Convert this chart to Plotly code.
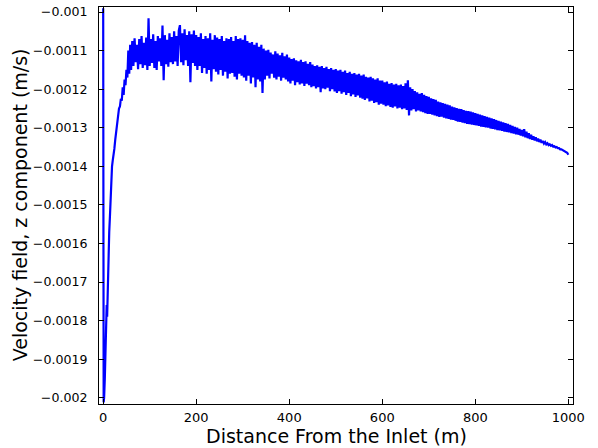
import plotly.graph_objects as go

# --- data ---
rise_x = [0, 1, 2, 3.5, 5, 6.5, 7.5, 8.5, 10, 11.5, 13, 14.5, 16, 17.5, 19, 20.5,
          22, 24, 26, 28, 30, 32, 34, 36, 38, 40, 42, 44, 46, 48, 50, 52, 54, 56, 58]
rise_v = [-0.990e-3, -2.012e-3, -2.000e-3, -1.950e-3, -1.893e-3, -1.830e-3, -1.760e-3,
          -1.790e-3, -1.700e-3, -1.630e-3, -1.570e-3, -1.530e-3, -1.470e-3, -1.440e-3,
          -1.400e-3, -1.385e-3, -1.375e-3, -1.355e-3, -1.330e-3, -1.310e-3, -1.285e-3,
          -1.270e-3, -1.250e-3, -1.245e-3, -1.225e-3, -1.230e-3, -1.195e-3, -1.215e-3,
          -1.175e-3, -1.190e-3, -1.150e-3, -1.170e-3, -1.100e-3, -1.160e-3, -1.085e-3]

# noisy part, sampled every 2.5 m from 60 m to 1000 m
band_x = [60 + 2.5 * i for i in range(377)]
band_v = [
    # 60 - 97.5
    -1.150e-3, -1.075e-3, -1.140e-3, -1.068e-3, -1.130e-3, -1.085e-3, -1.148e-3, -1.070e-3,
    -1.135e-3, -1.062e-3, -1.145e-3, -1.080e-3, -1.138e-3, -1.066e-3, -1.150e-3, -1.016e-3,
    # 100 - 147.5
    -1.140e-3, -1.070e-3, -1.132e-3, -1.058e-3, -1.145e-3, -1.075e-3, -1.150e-3, -1.062e-3,
    -1.128e-3, -1.068e-3, -1.140e-3, -1.035e-3, -1.177e-3, -1.060e-3, -1.135e-3, -1.072e-3,
    -1.142e-3, -1.055e-3, -1.130e-3, -1.065e-3,
    # 150 - 197.5
    -1.135e-3, -1.050e-3, -1.128e-3, -1.062e-3, -1.140e-3, -1.048e-3, -1.034e-3, -1.130e-3,
    -1.055e-3, -1.138e-3, -1.045e-3, -1.125e-3, -1.060e-3, -1.140e-3, -1.050e-3, -1.182e-3,
    -1.058e-3, -1.132e-3, -1.048e-3, -1.140e-3,
    # 200 - 247.5
    -1.060e-3, -1.150e-3, -1.065e-3, -1.140e-3, -1.055e-3, -1.158e-3, -1.070e-3, -1.145e-3,
    -1.062e-3, -1.160e-3, -1.068e-3, -1.150e-3, -1.055e-3, -1.180e-3, -1.072e-3, -1.148e-3,
    -1.060e-3, -1.155e-3, -1.066e-3, -1.162e-3,
    # 250 - 297.5
    -1.070e-3, -1.150e-3, -1.062e-3, -1.165e-3, -1.075e-3, -1.155e-3, -1.068e-3, -1.172e-3,
    -1.070e-3, -1.160e-3, -1.065e-3, -1.158e-3, -1.075e-3, -1.168e-3, -1.062e-3, -1.175e-3,
    -1.070e-3, -1.160e-3, -1.068e-3, -1.165e-3,
    # 300 - 347.5
    -1.072e-3, -1.170e-3, -1.060e-3, -1.178e-3, -1.075e-3, -1.165e-3, -1.080e-3, -1.185e-3,
    -1.078e-3, -1.170e-3, -1.085e-3, -1.195e-3, -1.080e-3, -1.175e-3, -1.090e-3, -1.180e-3,
    -1.085e-3, -1.210e-3, -1.095e-3, -1.175e-3,
    # 350 - 397.5
    -1.100e-3, -1.165e-3, -1.098e-3, -1.172e-3, -1.105e-3, -1.160e-3, -1.110e-3, -1.170e-3,
    -1.102e-3, -1.175e-3, -1.108e-3, -1.168e-3, -1.112e-3, -1.178e-3, -1.106e-3, -1.170e-3,
    -1.115e-3, -1.175e-3, -1.110e-3, -1.180e-3,
    # 400 - 447.5
    -1.118e-3, -1.185e-3, -1.122e-3, -1.178e-3, -1.120e-3, -1.190e-3, -1.125e-3, -1.182e-3,
    -1.128e-3, -1.188e-3, -1.124e-3, -1.185e-3, -1.130e-3, -1.192e-3, -1.128e-3, -1.186e-3,
    -1.134e-3, -1.190e-3, -1.130e-3, -1.195e-3,
    # 450 - 497.5
    -1.136e-3, -1.192e-3, -1.140e-3, -1.198e-3, -1.138e-3, -1.195e-3, -1.142e-3, -1.208e-3,
    -1.140e-3, -1.198e-3, -1.145e-3, -1.200e-3, -1.142e-3, -1.196e-3, -1.148e-3, -1.205e-3,
    -1.145e-3, -1.200e-3, -1.150e-3, -1.206e-3,
    # 500 - 547.5
    -1.148e-3, -1.210e-3, -1.152e-3, -1.205e-3, -1.150e-3, -1.212e-3, -1.155e-3, -1.208e-3,
    -1.152e-3, -1.215e-3, -1.158e-3, -1.210e-3, -1.155e-3, -1.218e-3, -1.160e-3, -1.214e-3,
    -1.158e-3, -1.220e-3, -1.162e-3, -1.216e-3,
    # 550 - 597.5
    -1.160e-3, -1.222e-3, -1.165e-3, -1.225e-3, -1.162e-3, -1.228e-3, -1.168e-3, -1.224e-3,
    -1.170e-3, -1.232e-3, -1.168e-3, -1.230e-3, -1.172e-3, -1.236e-3, -1.175e-3, -1.234e-3,
    -1.172e-3, -1.240e-3, -1.178e-3, -1.238e-3,
    # 600 - 647.5
    -1.178e-3, -1.240e-3, -1.182e-3, -1.244e-3, -1.180e-3, -1.242e-3, -1.186e-3, -1.246e-3,
    -1.184e-3, -1.248e-3, -1.188e-3, -1.245e-3, -1.186e-3, -1.250e-3, -1.190e-3, -1.248e-3,
    -1.188e-3, -1.252e-3, -1.192e-3, -1.250e-3,
    # 650 - 697.5
    -1.185e-3, -1.254e-3, -1.177e-3, -1.268e-3, -1.195e-3, -1.255e-3, -1.200e-3, -1.252e-3,
    -1.205e-3, -1.258e-3, -1.208e-3, -1.255e-3, -1.212e-3, -1.258e-3, -1.210e-3, -1.260e-3,
    -1.215e-3, -1.262e-3, -1.218e-3, -1.264e-3,
    # 700 - 747.5
    -1.220e-3, -1.264e-3, -1.224e-3, -1.266e-3, -1.226e-3, -1.268e-3, -1.228e-3, -1.270e-3,
    -1.232e-3, -1.272e-3, -1.234e-3, -1.271e-3, -1.236e-3, -1.274e-3, -1.238e-3, -1.276e-3,
    -1.240e-3, -1.277e-3, -1.242e-3, -1.279e-3,
    # 750 - 797.5
    -1.245e-3, -1.280e-3, -1.247e-3, -1.282e-3, -1.249e-3, -1.284e-3, -1.251e-3, -1.285e-3,
    -1.252e-3, -1.287e-3, -1.254e-3, -1.288e-3, -1.256e-3, -1.290e-3, -1.257e-3, -1.291e-3,
    -1.258e-3, -1.292e-3, -1.260e-3, -1.293e-3,
    # 800 - 847.5
    -1.262e-3, -1.294e-3, -1.264e-3, -1.295e-3, -1.266e-3, -1.297e-3, -1.268e-3, -1.298e-3,
    -1.270e-3, -1.299e-3, -1.272e-3, -1.300e-3, -1.274e-3, -1.302e-3, -1.276e-3, -1.303e-3,
    -1.278e-3, -1.304e-3, -1.280e-3, -1.306e-3,
    # 850 - 897.5
    -1.282e-3, -1.307e-3, -1.284e-3, -1.308e-3, -1.286e-3, -1.310e-3, -1.288e-3, -1.311e-3,
    -1.290e-3, -1.312e-3, -1.293e-3, -1.314e-3, -1.295e-3, -1.315e-3, -1.298e-3, -1.317e-3,
    -1.300e-3, -1.318e-3, -1.303e-3, -1.320e-3,
    # 900 - 947.5
    -1.306e-3, -1.322e-3, -1.304e-3, -1.325e-3, -1.310e-3, -1.327e-3, -1.314e-3, -1.329e-3,
    -1.318e-3, -1.331e-3, -1.322e-3, -1.333e-3, -1.325e-3, -1.335e-3, -1.328e-3, -1.337e-3,
    -1.331e-3, -1.339e-3, -1.334e-3, -1.341e-3,
    # 950 - 1000
    -1.337e-3, -1.343e-3, -1.340e-3, -1.345e-3, -1.343e-3, -1.347e-3, -1.345e-3, -1.349e-3,
    -1.348e-3, -1.351e-3, -1.350e-3, -1.353e-3, -1.353e-3, -1.356e-3, -1.356e-3, -1.358e-3,
    -1.359e-3, -1.361e-3, -1.362e-3, -1.365e-3, -1.370e-3,
]

x_ticks = [0, 200, 400, 600, 800, 1000]
x_tick_text = ["0", "200", "400", "600", "800", "1000"]
y_ticks = [-0.001, -0.0011, -0.0012, -0.0013, -0.0014, -0.0015,
           -0.0016, -0.0017, -0.0018, -0.0019, -0.002]
y_tick_text = ["\u22120.001", "\u22120.0011", "\u22120.0012", "\u22120.0013", "\u22120.0014",
               "\u22120.0015", "\u22120.0016", "\u22120.0017", "\u22120.0018", "\u22120.0019",
               "\u22120.002"]
x_title = "Distance From the Inlet (m)"
y_title = "Velocity field, z component (m/s)"

dist = rise_x + band_x
vel = rise_v + band_v

fig = go.Figure()
fig.add_trace(go.Scatter(x=dist, y=vel, mode="lines",
                         line=dict(color="#0000ff", width=2.2),
                         showlegend=False, hoverinfo="skip"))

font = "DejaVu Sans, Verdana, sans-serif"
fig.update_layout(
    width=598, height=448,
    margin=dict(l=99, r=25, t=7, b=44, autoexpand=False),
    paper_bgcolor="white", plot_bgcolor="white",
    font=dict(family=font, color="black", size=13),
)
fig.update_xaxes(
    range=[-9, 1010], tickvals=x_ticks, ticktext=x_tick_text,
    showgrid=False, zeroline=False, automargin=False,
    showline=True, linecolor="black", linewidth=1, mirror="ticks",
    ticks="inside", ticklen=5, tickcolor="black", ticklabelstandoff=1,
    tickfont=dict(size=13, family=font),
)
fig.update_yaxes(
    range=[-0.0020163, -0.000987], tickvals=y_ticks, ticktext=y_tick_text,
    showgrid=False, zeroline=False, automargin=False,
    showline=True, linecolor="black", linewidth=1, mirror="ticks",
    ticks="inside", ticklen=5, tickcolor="black", ticklabelstandoff=8,
    tickfont=dict(size=12.6, family=font),
)
fig.add_annotation(text=x_title, xref="paper", yref="paper", x=0.5, y=-0.0516,
                   xanchor="center", yanchor="top", showarrow=False, borderpad=0,
                   font=dict(size=19, family=font, color="black"))
fig.add_annotation(text=y_title, xref="paper", yref="paper", x=-0.1667, y=0.503,
                   xanchor="center", yanchor="middle", textangle=-90, showarrow=False,
                   borderpad=0, font=dict(size=19, family=font, color="black"))

fig.write_html("out.html", config={"displayModeBar": False},
               post_script="document.body.style.margin='0px';")
